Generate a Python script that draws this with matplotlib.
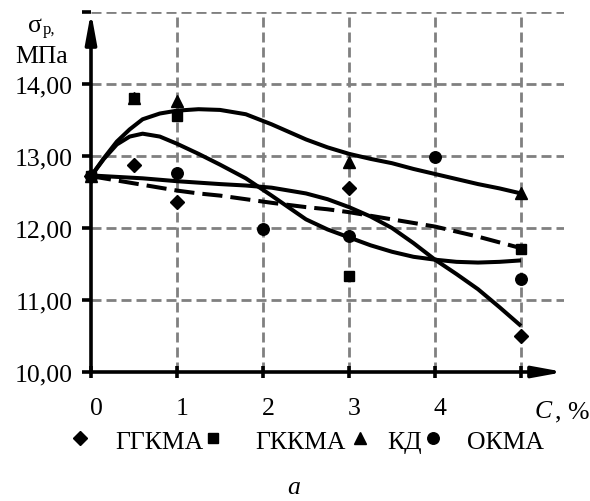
import matplotlib
matplotlib.use('Agg')
import matplotlib.pyplot as plt
from matplotlib.transforms import ScaledTranslation

plt.rcParams['font.family'] = ['Liberation Serif', 'DejaVu Serif']
FS = 18.5

# measured points (C, % -> sigma_p, MPa)
ggkma_x = [0, 0.5, 1, 3, 5]
ggkma_y = [12.72, 12.88, 12.36, 12.56, 10.50]
gkkma_x = [0, 0.5, 1, 3, 5]
gkkma_y = [12.72, 13.80, 13.56, 11.33, 11.71]
kd_x = [0, 0.5, 1, 3, 5]
kd_y = [12.72, 13.81, 13.77, 12.92, 12.49]
okma_x = [0, 1, 2, 3, 4, 5]
okma_y = [12.72, 12.77, 11.99, 11.89, 12.98, 11.29]

# trend curves
trend_x = [0, 0.15, 0.3, 0.45, 0.6, 0.8, 1.0, 1.25, 1.5, 1.8, 2.1, 2.5,
           2.75, 3.0, 3.25, 3.5, 3.75, 4.0, 4.25, 4.5, 4.75, 5.0]
kd_trend = [12.72, 12.97, 13.20, 13.37, 13.51, 13.59, 13.63, 13.65, 13.64,
            13.58, 13.44, 13.23, 13.12, 13.03, 12.96, 12.90, 12.82, 12.75,
            12.68, 12.61, 12.55, 12.48]
gkkma_trend = [12.72, 12.96, 13.16, 13.27, 13.31, 13.27, 13.17, 13.03, 12.88,
               12.69, 12.45, 12.12, 11.98, 11.87, 11.76, 11.67, 11.60, 11.56,
               11.53, 11.52, 11.53, 11.55]
ggkma_trend = [12.73, 12.72, 12.71, 12.70, 12.69, 12.67, 12.65, 12.63, 12.61,
               12.59, 12.56, 12.48, 12.40, 12.29, 12.16, 12.00, 11.79, 11.56,
               11.36, 11.15, 10.90, 10.64]
okma_trend = [12.72, 12.69, 12.66, 12.63, 12.60, 12.56, 12.52, 12.48, 12.45,
              12.40, 12.35, 12.29, 12.26, 12.22, 12.17, 12.12, 12.07, 12.02,
              11.95, 11.88, 11.80, 11.72]

yticks = [10, 11, 12, 13, 14, 15]
ylabels = ['10,00', '11,00', '12,00', '13,00', '14,00', '']
xticks = [0, 1, 2, 3, 4, 5]
xlabels = ['0', '1', '2', '3', '4', '']

W, H = 590, 502
fig = plt.figure(figsize=(W / 100, H / 100), dpi=100)
ax = fig.add_axes([91 / W, 1 - 373 / H, 473 / W, 360 / H])
ax.set_xlim(0, 5.5)
ax.set_ylim(10, 15)
for s in ax.spines.values():
    s.set_visible(False)

grid_kw = dict(color='#808080', lw=2.0, dashes=(3.6, 1.8), zorder=1)
for v in yticks[1:]:
    ax.plot([0, 5.5], [v, v], **grid_kw)
for v in xticks[1:]:
    ax.plot([v, v], [10, 15], **grid_kw)

# axes with arrows
arr = dict(arrowstyle='-|>,head_length=1.8,head_width=0.33', lw=2.6,
           color='black', shrinkA=0, shrinkB=0, mutation_scale=10)
ax.annotate('', xy=(5.5, 10), xytext=(0, 10), arrowprops=arr, zorder=3,
            annotation_clip=False)
ax.annotate('', xy=(0, 15), xytext=(0, 10), arrowprops=arr, zorder=3,
            annotation_clip=False)

ax.set_xticks(xticks)
ax.set_xticklabels(xlabels, fontsize=FS)
ax.set_yticks(yticks)
ax.set_yticklabels(ylabels, fontsize=FS)
ax.tick_params(axis='x', direction='inout', length=8, width=2.6, pad=14)
ax.tick_params(axis='y', direction='out', length=6.5, width=2.6, pad=7)
off = ScaledTranslation(5 / 100, 0, fig.dpi_scale_trans)
for lab in ax.get_xticklabels():
    lab.set_transform(lab.get_transform() + off)

line_kw = dict(color='black', lw=2.9, zorder=4, solid_capstyle='butt',
               solid_joinstyle='round')
ax.plot(trend_x, kd_trend, **line_kw)
ax.plot(trend_x, gkkma_trend, **line_kw)
ax.plot(trend_x, ggkma_trend, **line_kw)
ax.plot(trend_x, okma_trend, color='black', lw=2.9, dashes=(5, 2), zorder=4)

mk = dict(ls='none', color='black', clip_on=False, zorder=5)
ax.plot(kd_x, kd_y, marker='^', ms=8.5, **mk)
ax.plot(ggkma_x, ggkma_y, marker='D', ms=7.3, **mk)
ax.plot(okma_x, okma_y, marker='o', ms=8.3, **mk)
ax.plot(gkkma_x, gkkma_y, marker='s', ms=7.3, **mk)

# axis titles
fig.text(28 / W, 1 - 32 / H, 'σ', fontsize=FS, ha='left', va='baseline')
fig.text(43 / W, 1 - 34 / H, 'р,', fontsize=12, ha='left', va='baseline')
fig.text(15 / W, 1 - 63 / H, 'МПа', fontsize=FS, ha='left', va='baseline')
fig.text(535 / W, 1 - 418 / H, 'C', fontsize=FS, style='italic',
         ha='left', va='baseline')
fig.text(555 / W, 1 - 418 / H, ', %', fontsize=FS, ha='left', va='baseline')

# legend row
leg_y = 1 - 439 / H
leg_marks = [(80, 'D', 7.3), (213, 's', 7.3), (360, '^', 8.5), (433, 'o', 8.3)]
leg_names = [(115, 'ГГКМА'), (255, 'ГККМА'), (387, 'КД'), (467, 'ОКМА')]
for x, m, s in leg_marks:
    fig.add_artist(plt.Line2D([x / W], [leg_y], marker=m, ms=s, color='black',
                              ls='none', transform=fig.transFigure))
for x, t in leg_names:
    fig.text(x / W, 1 - 449 / H, t, fontsize=FS, ha='left', va='baseline')

fig.text(294 / W, 1 - 494 / H, 'a', fontsize=FS, style='italic',
         ha='center', va='baseline')

fig.savefig('out.png', dpi=100)
